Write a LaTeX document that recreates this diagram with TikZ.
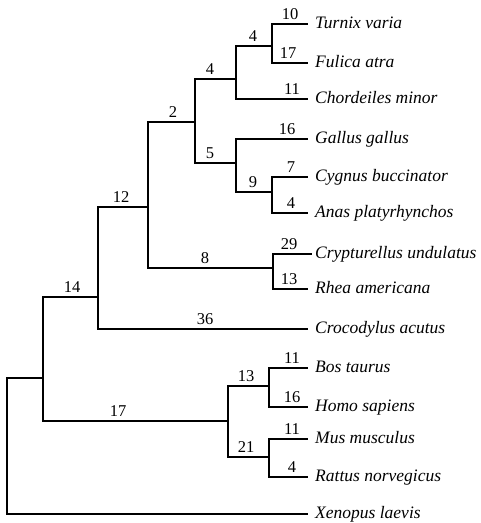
\documentclass[tikz,border=0pt]{standalone}
\usepackage{fontspec}
\setmainfont{Liberation Serif}
\begin{document}
\begin{tikzpicture}[x=1pt,y=-1pt,
  branch/.style={line width=1.2pt, line cap=rect},
  taxon/.style={anchor=base west, inner sep=0pt, font=\fontsize{17.5}{20}\selectfont\itshape, xshift=8pt, yshift=-4.5pt},
  num/.style={anchor=base, inner sep=0pt, font=\fontsize{16.5}{19}\selectfont}]
\useasboundingbox (0,0) rectangle (481,523);
% internal nodes (x of vertical bar, y where parent branch joins)
\coordinate (R) at (7,446);
\coordinate (A) at (43,378);
\coordinate (B) at (98,297);
\coordinate (C) at (148,207);
\coordinate (D) at (195,122);
\coordinate (F) at (236,79);
\coordinate (H) at (272,46);
\coordinate (G) at (236,163);
\coordinate (I) at (272,192);
\coordinate (E) at (273,268);
\coordinate (M) at (228,421);
\coordinate (N) at (269,386);
\coordinate (O) at (269,457);
% leaves
\coordinate (turnix) at (307,24);
\coordinate (fulica) at (307,63);
\coordinate (chord) at (307,99);
\coordinate (gallus) at (307,139);
\coordinate (cygnus) at (307,177);
\coordinate (anas) at (307,213);
\coordinate (crypt) at (311,254);
\coordinate (rhea) at (307,289);
\coordinate (croc) at (307,329);
\coordinate (bos) at (307,368);
\coordinate (homo) at (307,407);
\coordinate (mus) at (307,439);
\coordinate (rattus) at (307,477);
\coordinate (xeno) at (307,514);
% taxon names
\node[taxon] (tturnix) at (turnix) {Turnix varia};
\node[taxon] (tfulica) at (fulica) {Fulica atra};
\node[taxon] (tchord) at (chord) {Chordeiles minor};
\node[taxon] (tgallus) at (gallus) {Gallus gallus};
\node[taxon] (tcygnus) at (cygnus) {Cygnus buccinator};
\node[taxon] (tanas) at (anas) {Anas platyrhynchos};
\node[taxon] (tcrypt) at (rhea |- crypt) {Crypturellus undulatus};
\node[taxon] (trhea) at (rhea) {Rhea americana};
\node[taxon] (tcroc) at (croc) {Crocodylus acutus};
\node[taxon] (tbos) at (bos) {Bos taurus};
\node[taxon] (thomo) at (homo) {Homo sapiens};
\node[taxon] (tmus) at (mus) {Mus musculus};
\node[taxon] (trattus) at (rattus) {Rattus norvegicus};
\node[taxon] (txeno) at (xeno) {Xenopus laevis};
% branches
\draw[branch] (R) |- (A);
\draw[branch] (R) |- (xeno);
\draw[branch] (A) |- (B);
\draw[branch] (A) |- (M);
\draw[branch] (B) |- (C);
\draw[branch] (B) |- (croc);
\draw[branch] (C) |- (D);
\draw[branch] (C) |- (E);
\draw[branch] (D) |- (F);
\draw[branch] (D) |- (G);
\draw[branch] (F) |- (H);
\draw[branch] (F) |- (chord);
\draw[branch] (H) |- (turnix);
\draw[branch] (H) |- (fulica);
\draw[branch] (G) |- (gallus);
\draw[branch] (G) |- (I);
\draw[branch] (I) |- (cygnus);
\draw[branch] (I) |- (anas);
\draw[branch] (E) |- (crypt);
\draw[branch] (E) |- (rhea);
\draw[branch] (M) |- (N);
\draw[branch] (M) |- (O);
\draw[branch] (N) |- (bos);
\draw[branch] (N) |- (homo);
\draw[branch] (O) |- (mus);
\draw[branch] (O) |- (rattus);
% branch lengths
\node[num] (l1) at (290,19.5) {10};
\node[num] (l2) at (288,58.5) {17};
\node[num] (l3) at (253,41.5) {4};
\node[num] (l4) at (292,94.5) {11};
\node[num] (l5) at (210,74.5) {4};
\node[num] (l6) at (173,117.5) {2};
\node[num] (l7) at (287,134.5) {16};
\node[num] (l8) at (210,158.5) {5};
\node[num] (l9) at (291,172.5) {7};
\node[num] (l10) at (253,187.5) {9};
\node[num] (l11) at (291,208.5) {4};
\node[num] (l12) at (289,249.5) {29};
\node[num] (l13) at (205,263.5) {8};
\node[num] (l14) at (289,284.5) {13};
\node[num] (l15) at (121,202.5) {12};
\node[num] (l16) at (205,324.5) {36};
\node[num] (l17) at (72,292.5) {14};
\node[num] (l18) at (292,363.5) {11};
\node[num] (l19) at (292,402.5) {16};
\node[num] (l20) at (246,381.5) {13};
\node[num] (l21) at (292,434.5) {11};
\node[num] (l22) at (292,472.5) {4};
\node[num] (l23) at (246,452.5) {21};
\node[num] (l24) at (118,416.5) {17};
\end{tikzpicture}
\end{document}
